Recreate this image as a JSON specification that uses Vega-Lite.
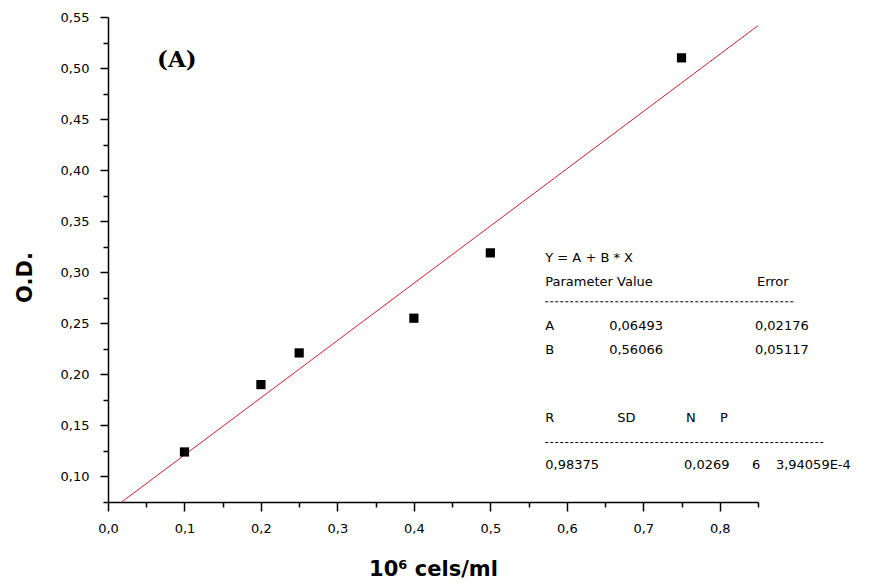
{
  "$schema": "https://vega.github.io/schema/vega-lite/v6.json",
  "autosize": "none",
  "width": 650,
  "height": 485,
  "padding": {"left": 108, "top": 17, "right": 119, "bottom": 82},
  "background": "white",
  "config": {
    "view": {"stroke": null},
    "axis": {
      "grid": false,
      "domainColor": "black",
      "domainWidth": 1.5,
      "tickColor": "black",
      "tickWidth": 1.5,
      "labelFont": "DejaVu Sans",
      "labelFontSize": 13,
      "labelColor": "black",
      "titleFont": "DejaVu Sans",
      "titleFontWeight": "bold",
      "titleFontSize": 21,
      "titleColor": "black"
    }
  },
  "datasets": {
    "points": [
      {"x": 0.1, "y": 0.124},
      {"x": 0.2, "y": 0.19},
      {"x": 0.25, "y": 0.221},
      {"x": 0.4, "y": 0.255},
      {"x": 0.5, "y": 0.319},
      {"x": 0.75, "y": 0.51}
    ],
    "fit": [
      {"x": 0.0179, "y": 0.075},
      {"x": 0.85, "y": 0.5415}
    ],
    "stats": [
      {"x": 0.5718, "y": 0.3142, "label": "Y = A + B * X"},
      {"x": 0.5718, "y": 0.2907, "label": "Parameter Value"},
      {"x": 0.8486, "y": 0.2907, "label": "Error"},
      {"x": 0.5718, "y": 0.2477, "label": "A"},
      {"x": 0.6554, "y": 0.2477, "label": "0,06493"},
      {"x": 0.846, "y": 0.2477, "label": "0,02176"},
      {"x": 0.5718, "y": 0.2242, "label": "B"},
      {"x": 0.6554, "y": 0.2242, "label": "0,56066"},
      {"x": 0.846, "y": 0.2242, "label": "0,05117"},
      {"x": 0.5718, "y": 0.1576, "label": "R"},
      {"x": 0.6658, "y": 0.1576, "label": "SD"},
      {"x": 0.7559, "y": 0.1576, "label": "N"},
      {"x": 0.8003, "y": 0.1576, "label": "P"},
      {"x": 0.5718, "y": 0.1116, "label": "0,98375"},
      {"x": 0.7533, "y": 0.1116, "label": "0,0269"},
      {"x": 0.842, "y": 0.1116, "label": "6"},
      {"x": 0.8734, "y": 0.1116, "label": "3,94059E-4"}
    ],
    "dashes": [
      {"x": 0.5718, "x2": 0.8969, "y": 0.2711},
      {"x": 0.5718, "x2": 0.936, "y": 0.1332}
    ],
    "panel": [
      {"x": 0.09, "y": 0.508, "label": "(A)"}
    ]
  },
  "encoding": {
    "x": {
      "field": "x",
      "type": "quantitative",
      "scale": {"domain": [0, 0.85], "nice": false, "zero": false},
      "axis": {
        "title": "10⁶ cels/ml",
        "values": [0, 0.05, 0.1, 0.15, 0.2, 0.25, 0.3, 0.35, 0.4, 0.45, 0.5, 0.55, 0.6, 0.65, 0.7, 0.75, 0.8, 0.85],
        "labelExpr": "round(datum.value*100) % 10 == 0 ? replace(format(datum.value, '.1f'), '.', ',') : ''",
        "tickSize": {"condition": {"test": "round(datum.value*100) % 10 == 0", "value": 9}, "value": 5},
        "labelPadding": 11,
        "labelFlush": false,
        "labelOverlap": false,
        "titlePadding": 23
      }
    },
    "y": {
      "field": "y",
      "type": "quantitative",
      "scale": {"domain": [0.075, 0.55], "nice": false, "zero": false},
      "axis": {
        "title": "O.D.",
        "values": [0.075, 0.1, 0.125, 0.15, 0.175, 0.2, 0.225, 0.25, 0.275, 0.3, 0.325, 0.35, 0.375, 0.4, 0.425, 0.45, 0.475, 0.5, 0.525, 0.55],
        "labelExpr": "round(datum.value*1000) % 50 == 0 ? replace(format(datum.value, '.2f'), '.', ',') : ''",
        "tickSize": {"condition": {"test": "round(datum.value*1000) % 50 == 0", "value": 8}, "value": 5},
        "labelPadding": 11,
        "labelFlush": false,
        "labelOverlap": false,
        "titleX": -83,
        "titleY": 260,
        "titleAngle": -90,
        "titleAlign": "center",
        "titleBaseline": "middle"
      }
    }
  },
  "layer": [
    {
      "data": {"name": "fit"},
      "mark": {"type": "line", "color": "#cc1f2f", "strokeWidth": 1},
      "encoding": {}
    },
    {
      "data": {"name": "points"},
      "mark": {"type": "point", "shape": "square", "filled": true, "color": "black", "opacity": 1, "size": 85},
      "encoding": {}
    },
    {
      "data": {"name": "dashes"},
      "mark": {"type": "rule", "color": "black", "strokeWidth": 1, "strokeDash": [3, 2]},
      "encoding": {"x2": {"field": "x2"}}
    },
    {
      "data": {"name": "stats"},
      "mark": {"type": "text", "align": "left", "baseline": "middle", "font": "DejaVu Sans", "fontSize": 13, "color": "black"},
      "encoding": {"text": {"field": "label"}}
    },
    {
      "data": {"name": "panel"},
      "mark": {"type": "text", "align": "center", "baseline": "middle", "font": "DejaVu Serif", "fontWeight": "bold", "fontSize": 23, "color": "black"},
      "encoding": {"text": {"field": "label"}}
    }
  ]
}
